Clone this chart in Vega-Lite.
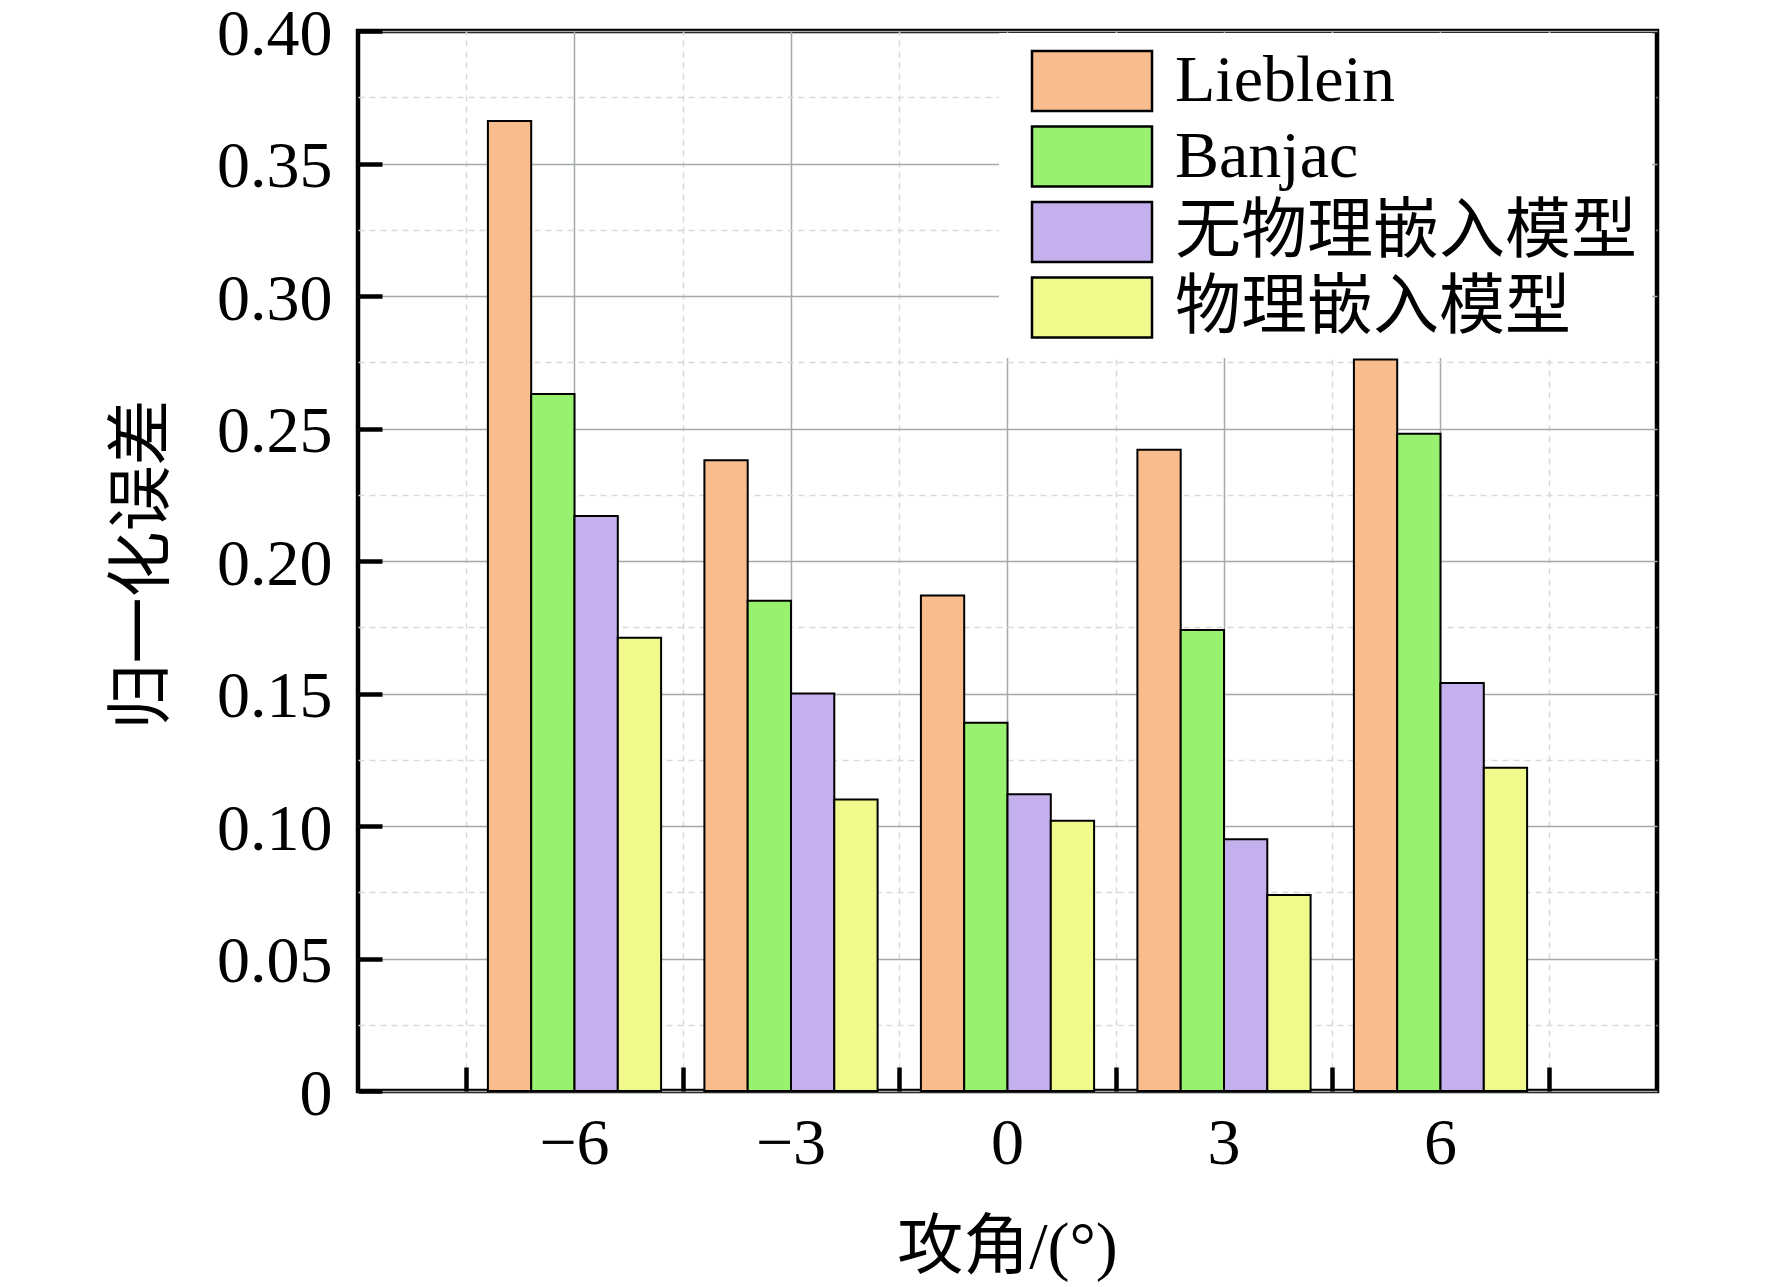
{
  "$schema": "https://vega.github.io/schema/vega-lite/v6.json",
  "width": 1299,
  "height": 1060,
  "autosize": {"type": "none"},
  "padding": {"left": 358, "top": 31, "right": 115, "bottom": 196},
  "background": "white",
  "config": {
    "font": "Liberation Serif, Noto Serif CJK SC, Noto Sans CJK SC, serif",
    "view": {"stroke": "black", "strokeWidth": 4.5, "fill": "white"},
    "axis": {"labelFont": "Liberation Serif, Noto Sans CJK SC", "titleFont": "Liberation Serif, Noto Sans CJK SC", "labelColor": "black", "titleColor": "black", "titleFontWeight": "normal"},
    "legend": {"labelFont": "Liberation Serif, Noto Sans CJK SC"}
  },
  "data": {
    "values": [
      {"angle": -6, "model": "Lieblein", "value": 0.366},
      {"angle": -6, "model": "Banjac", "value": 0.263},
      {"angle": -6, "model": "无物理嵌入模型", "value": 0.217},
      {"angle": -6, "model": "物理嵌入模型", "value": 0.171},
      {"angle": -3, "model": "Lieblein", "value": 0.238},
      {"angle": -3, "model": "Banjac", "value": 0.185},
      {"angle": -3, "model": "无物理嵌入模型", "value": 0.150},
      {"angle": -3, "model": "物理嵌入模型", "value": 0.110},
      {"angle": 0, "model": "Lieblein", "value": 0.187},
      {"angle": 0, "model": "Banjac", "value": 0.139},
      {"angle": 0, "model": "无物理嵌入模型", "value": 0.112},
      {"angle": 0, "model": "物理嵌入模型", "value": 0.102},
      {"angle": 3, "model": "Lieblein", "value": 0.242},
      {"angle": 3, "model": "Banjac", "value": 0.174},
      {"angle": 3, "model": "无物理嵌入模型", "value": 0.095},
      {"angle": 3, "model": "物理嵌入模型", "value": 0.074},
      {"angle": 6, "model": "Lieblein", "value": 0.276},
      {"angle": 6, "model": "Banjac", "value": 0.248},
      {"angle": 6, "model": "无物理嵌入模型", "value": 0.154},
      {"angle": 6, "model": "物理嵌入模型", "value": 0.122}
    ]
  },
  "layer": [
    {
      "mark": {"type": "bar", "stroke": "black", "strokeWidth": 2, "opacity": 1},
      "encoding": {
        "x": {
          "field": "angle",
          "type": "ordinal",
          "sort": "ascending",
          "scale": {"type": "band", "paddingInner": 0, "paddingOuter": 0.5},
          "axis": {
            "orient": "bottom",
            "title": "攻角/(°)",
            "titleFontSize": 66,
            "titleX": 649,
            "titleY": 156,
            "titleBaseline": "middle",
            "labelAngle": 0,
            "labelFontSize": 66,
            "labelPadding": 44,
            "labelExpr": "replace(datum.label, '-', '−')",
            "domain": false,
            "ticks": true,
            "tickSize": -24,
            "tickWidth": 4.5,
            "tickColor": "black",
            "tickBand": "center",
            "grid": true,
            "gridColor": "#a4a9a9",
            "gridWidth": 1.5,
            "zindex": 0
          }
        },
        "xOffset": {
          "field": "model",
          "type": "nominal",
          "sort": ["Lieblein", "Banjac", "无物理嵌入模型", "物理嵌入模型"],
          "scale": {"paddingInner": 0, "paddingOuter": 0.5}
        },
        "y": {
          "field": "value",
          "type": "quantitative",
          "scale": {"domain": [0, 0.4], "nice": false, "zero": true},
          "axis": {
            "title": "归一化误差",
            "titleFontSize": 66,
            "titleX": -216,
            "titleY": 533,
            "titleAngle": -90,
            "titleBaseline": "middle",
            "titleAlign": "center",
            "values": [0, 0.025, 0.05, 0.075, 0.1, 0.125, 0.15, 0.175, 0.2, 0.225, 0.25, 0.275, 0.3, 0.325, 0.35, 0.375, 0.4],
            "labelExpr": "abs(datum.value * 20 - round(datum.value * 20)) > 0.01 ? '' : (datum.value == 0 ? '0' : format(datum.value, '.2f'))",
            "labelFontSize": 66,
            "labelPadding": 50,
            "labelOffset": 3,
            "labelFlush": false,
            "labelOverlap": false,
            "domain": false,
            "ticks": true,
            "tickSize": -24,
            "tickWidth": 4.5,
            "tickColor": "black",
            "tickOpacity": {"condition": {"test": "abs(datum.value * 20 - round(datum.value * 20)) > 0.01", "value": 0}, "value": 1},
            "grid": true,
            "gridColor": {"condition": {"test": "abs(datum.value * 20 - round(datum.value * 20)) > 0.01", "value": "#d9d9d9"}, "value": "#a4a9a9"},
            "gridDash": {"condition": {"test": "abs(datum.value * 20 - round(datum.value * 20)) > 0.01", "value": [6, 5]}, "value": []},
            "gridWidth": 1.5,
            "zindex": 0
          }
        },
        "color": {
          "field": "model",
          "type": "nominal",
          "scale": {
            "domain": ["Lieblein", "Banjac", "无物理嵌入模型", "物理嵌入模型"],
            "range": ["#F9BC8C", "#98F270", "#C4B0EC", "#F0FA8C"]
          },
          "legend": {
            "title": null,
            "orient": "none",
            "legendX": 641,
            "legendY": 2,
            "padding": 15,
            "fillColor": "white",
            "strokeColor": null,
            "labelFontSize": 66,
            "labelColor": "black",
            "labelLimit": 0,
            "rowPadding": 5.5,
            "symbolType": "M-4,-2H4V2H-4Z",
            "symbolSize": 900,
            "symbolOffset": 45,
            "labelOffset": 50,
            "symbolStrokeColor": "black",
            "symbolStrokeWidth": 2.5,
            "symbolOpacity": 1
          }
        }
      }
    },
    {
      "mark": {"type": "rule", "opacity": 0},
      "encoding": {
        "x": {
          "field": "angle",
          "type": "ordinal",
          "sort": "ascending",
          "scale": {"type": "band", "paddingInner": 0, "paddingOuter": 0.5},
          "axis": {
            "orient": "bottom",
            "title": null,
            "labels": false,
            "domain": false,
            "ticks": true,
            "tickSize": -24,
            "tickWidth": 4.5,
            "tickColor": "black",
            "tickBand": "extent",
            "grid": true,
            "gridColor": "#d9d9d9",
            "gridDash": [6, 5],
            "gridWidth": 1.5,
            "zindex": 0
          }
        }
      }
    }
  ],
  "resolve": {"axis": {"x": "independent"}}
}
